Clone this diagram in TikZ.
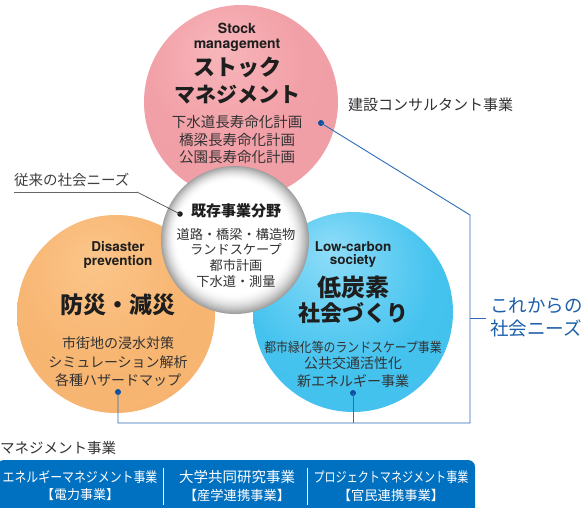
\documentclass[tikz,border=0pt]{standalone}
\usepackage{fontspec}
\usepackage{graphicx}
\setmainfont{Noto Sans CJK JP}
\newfontfamily\hv{TeX Gyre Heros}
\newcommand\myfs[1]{\fontsize{#1}{#1}\selectfont}
\definecolor{txtg}{HTML}{333333}
\definecolor{txtd}{HTML}{1E1E1E}
\definecolor{pinkL}{HTML}{F7B6BB}
\definecolor{pinkM}{HTML}{F2A0A7}
\definecolor{pinkD}{HTML}{CF7F88}
\definecolor{oraL}{HTML}{FBC68A}
\definecolor{oraM}{HTML}{F8B673}
\definecolor{oraD}{HTML}{D9954F}
\definecolor{bluL}{HTML}{8FDDF8}
\definecolor{bluM}{HTML}{45C3EF}
\definecolor{bluD}{HTML}{2797C8}
\definecolor{whiD}{HTML}{A0A0A0}
\definecolor{needblue}{HTML}{1C5FAA}
\definecolor{connblue}{HTML}{2E6DB8}
\definecolor{dotblue}{HTML}{0D4FA0}
\definecolor{boxblue}{RGB}{0,112,192}
\pgfdeclareradialshading{pinkball}{\pgfpoint{-6bp}{14bp}}{color(0bp)=(pinkL); color(20bp)=(pinkM); color(50bp)=(pinkM!90!pinkD); color(64bp)=(pinkD)}
\pgfdeclareradialshading{oraball}{\pgfpoint{-6bp}{14bp}}{color(0bp)=(oraL); color(20bp)=(oraM); color(50bp)=(oraM!88!oraD); color(64bp)=(oraD)}
\pgfdeclareradialshading{bluball}{\pgfpoint{-6bp}{16bp}}{color(0bp)=(bluL); color(24bp)=(bluM); color(50bp)=(bluM!88!bluD); color(64bp)=(bluD)}
\tikzset{
  ball/.style={circle, inner sep=0pt, minimum size=#1},
  txt/.style={inner sep=0pt, text=txtg},
  bold/.style={inner sep=0pt, text=txtd, font=\bfseries},
  dotst/.style={circle, fill=dotblue, inner sep=0pt, minimum size=6pt},
  conn/.style={draw=connblue, line width=0.9pt},
  grayline/.style={draw=gray!80!black, line width=0.8pt},
  boxtxt/.style={inner sep=0pt, text=white},
}
\begin{document}
\begin{tikzpicture}[x=1pt,y=-1pt]
\useasboundingbox[fill=white] (0,0) rectangle (588,507);
% circles
\node[ball=198pt, shading=oraball] (orange) at (116,314) {};
\node[ball=200pt, shading=bluball] (blue) at (353,312) {};
\node[ball=194pt, shading=pinkball] (pink) at (241,102) {};
\node[ball=148pt] (white) at (235,240) {};
\foreach \i in {0,...,17}{
  \pgfmathsetmacro\pc{100*(1-\i/17)^1.8}
  \pgfmathsetmacro\rr{74-\i}
  \pgfmathsetmacro\dx{-0.1*\i}
  \pgfmathsetmacro\dy{-0.15*\i}
  \fill[whiD!\pc!white] ([shift={(\dx,\dy)}]white.center) circle[radius=\rr pt];
}
% pink texts
\node[inner sep=0pt, text=txtd, font=\hv\bfseries\myfs{14}, anchor=base] (p1) at (237,33) {Stock};
\node[inner sep=0pt, text=txtd, font=\hv\bfseries\myfs{14}, anchor=base] (p2) at (237,48) {management};
\node[bold, font=\bfseries\myfs{22}] (p3) at (237,67) {ストック};
\node[bold, font=\bfseries\myfs{21}] (p4) at (237,95) {マネジメント};
\node[txt, font=\myfs{14.5}] (p5) at (237,122) {下水道長寿命化計画};
\node[txt, font=\myfs{14.5}] (p6) at (237,140) {橋梁長寿命化計画};
\node[txt, font=\myfs{14.5}] (p7) at (237,157) {公園長寿命化計画};
% white texts
\node[bold, font=\bfseries\myfs{15}] (w1) at (236,211) {既存事業分野};
\node[txt, font=\myfs{13.2}] (w2) at (236,234) {道路・橋梁・構造物};
\node[txt, font=\myfs{13.2}] (w3) at (236,249.5) {ランドスケープ};
\node[txt, font=\myfs{13.2}] (w4) at (236,265.5) {都市計画};
\node[txt, font=\myfs{13.2}] (w5) at (236,281) {下水道・測量};
% orange texts
\node[inner sep=0pt, text=txtd, font=\hv\bfseries\myfs{13.5}, anchor=base] (o1) at (118,251) {Disaster};
\node[inner sep=0pt, text=txtd, font=\hv\bfseries\myfs{13.5}, anchor=base] (o2) at (118,265) {prevention};
\node[bold, font=\bfseries\myfs{23}] (o3) at (118,305) {防災・減災};
\node[txt, font=\myfs{14}] (o4) at (118,343) {市街地の浸水対策};
\node[txt, font=\myfs{14}] (o5) at (118,362) {シミュレーション解析};
\node[txt, font=\myfs{14}] (o6) at (118,380) {各種ハザードマップ};
% blue texts
\node[inner sep=0pt, text=txtd, font=\hv\bfseries\myfs{13.5}, anchor=base] (b1) at (353,251) {Low-carbon};
\node[inner sep=0pt, text=txtd, font=\hv\bfseries\myfs{13.5}, anchor=base] (b2) at (353,264) {society};
\node[bold, font=\bfseries\myfs{24}] (b3) at (353,287) {低炭素};
\node[bold, font=\bfseries\myfs{22}] (b4) at (353,313) {社会づくり};
\node[txt, font=\myfs{13.5}] (b5) at (353,347) {\scalebox{0.88}[1]{都市緑化等のランドスケープ事業}};
\node[txt, font=\myfs{14}] (b6) at (353,363.5) {公共交通活性化};
\node[txt, font=\myfs{14}] (b7) at (353,381) {新エネルギー事業};
% side labels
\node[txt, font=\myfs{15}, anchor=west] (cons) at (348,105) {建設コンサルタント事業};
\node[txt, text=black!75, font=\myfs{14.5}, anchor=west] (old) at (14,180) {従来の社会ニーズ};
\node[inner sep=0pt, text=needblue, font=\myfs{18.5}, anchor=west] (need1) at (490,306) {これからの};
\node[inner sep=0pt, text=needblue, font=\myfs{18.5}, anchor=west] (need2) at (490,328) {社会ニーズ};
% dots
\node[dotst] (dpink) at (321,123) {};
\node[dotst] (dorange) at (118,392) {};
\node[dotst] (dblue) at (353,393) {};
\node[dotst, fill=txtd, minimum size=5.5pt] (dwhite) at (180,214) {};
% connectors
\coordinate (turn) at (470,215);
\coordinate (bot) at (470,423);
\coordinate (tick) at (470,318);
\coordinate (tickend) at (486,318);
\draw[conn] (dpink.center) -- (turn) -- (bot) -| (dorange.center);
\draw[conn] (dblue.center) -- (dblue.center |- bot);
\draw[conn] (tick) -- (tickend);
\coordinate (ul) at (14,192);
\coordinate (ur) at (137,192);
\draw[grayline] (ul) -- (ur);
\draw[draw=black!70, line width=0.7pt] (ur) -- (dwhite.center);
% bottom
\node[txt, font=\myfs{14.5}, anchor=west] (mgmt) at (0,448) {マネジメント事業};
\fill[boxblue, rounded corners=7pt] (-3,460) rectangle (475,520);
\coordinate (div1t) at (163,468);
\coordinate (div1b) at (163,505);
\coordinate (div2t) at (307,468);
\coordinate (div2b) at (307,505);
\draw[white, line width=0.9pt] (div1t) -- (div1b);
\draw[white, line width=0.9pt] (div2t) -- (div2b);
\node[boxtxt, font=\myfs{14}] (e1) at (80,477) {\scalebox{0.85}[1]{エネルギーマネジメント事業}};
\node[boxtxt, font=\myfs{13}] (e2) at (80,495) {【電力事業】};
\node[boxtxt, font=\myfs{14.5}] (u1) at (237,477) {大学共同研究事業};
\node[boxtxt, font=\myfs{13.3}] (u2) at (237,495) {【産学連携事業】};
\node[boxtxt, font=\myfs{14}] (j1) at (391,477) {\scalebox{0.79}[1]{プロジェクトマネジメント事業}};
\node[boxtxt, font=\myfs{13.3}] (j2) at (391,495) {【官民連携事業】};
\end{tikzpicture}
\end{document}
